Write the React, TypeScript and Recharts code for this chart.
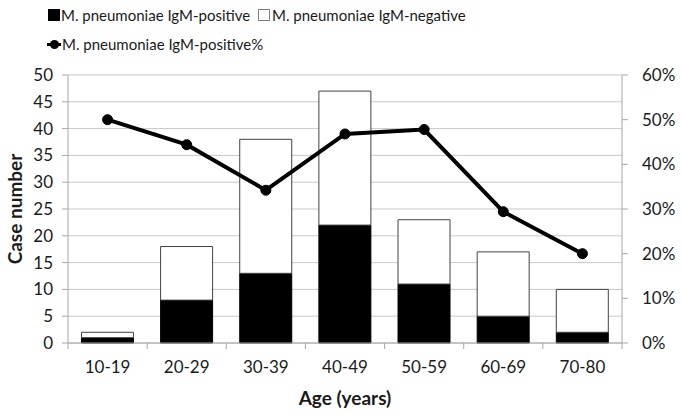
import { ComposedChart, Bar, Line, XAxis, YAxis, CartesianGrid } from 'recharts';

const ageGroups = ['10-19', '20-29', '30-39', '40-49', '50-59', '60-69', '70-80'];
const igmPositive = [1, 8, 13, 22, 11, 5, 2];
const igmNegative = [1, 10, 25, 25, 12, 12, 8];
const positiveRate = [0.5, 0.444, 0.342, 0.468, 0.478, 0.294, 0.2];
const countTicks = [0, 5, 10, 15, 20, 25, 30, 35, 40, 45, 50];
const rateTicks = [0, 0.1, 0.2, 0.3, 0.4, 0.5, 0.6];

const data = ageGroups.map((age, i) => ({
  age,
  pos: igmPositive[i],
  neg: igmNegative[i],
  rate: positiveRate[i],
}));

const W = 683;
const H = 415;
const LEFT = 68;
const RIGHT = 61;
const TOP = 75;
const BOTTOM = 72;
const FONT = 'Lato, "Open Sans", sans-serif';
const AXIS = '#a6a6a6';
const TEXT = '#1a1a1a';
const band = (W - LEFT - RIGHT) / ageGroups.length;
const plotBottom = H - BOTTOM;

function AgeTick(props: any) {
  const { x, payload, index } = props;
  return (
    <g>
      <line x1={x - band / 2} x2={x - band / 2} y1={plotBottom} y2={plotBottom + 6} stroke={AXIS} />
      {index === ageGroups.length - 1 && (
        <line x1={x + band / 2} x2={x + band / 2} y1={plotBottom} y2={plotBottom + 6} stroke={AXIS} />
      )}
      <text x={x} y={366} textAnchor="middle" dominantBaseline="central" fontSize={17} fill={TEXT}>
        {payload.value}
      </text>
    </g>
  );
}

const legendText = { position: 'absolute' as const, fontSize: 15, lineHeight: '20px', color: TEXT, whiteSpace: 'nowrap' as const };

export default function App() {
  return (
    <div style={{ position: 'absolute', left: 0, top: 0, width: W, height: H, fontFamily: FONT, background: '#fff' }}>
      <ComposedChart
        width={W}
        height={H}
        data={data}
        margin={{ top: TOP, right: 0, bottom: 0, left: 0 }}
        barCategoryGap="17%"
      >
        <CartesianGrid yAxisId="left" vertical={false} stroke="#c8c8c8" />
        <XAxis
          dataKey="age"
          height={BOTTOM}
          tickLine={false}
          axisLine={{ stroke: AXIS }}
          tick={<AgeTick />}
          interval={0}
          label={{ value: 'Age (years)', position: 'insideBottom', offset: 10, fontSize: 19, fontWeight: 700, fill: TEXT }}
        />
        <YAxis
          yAxisId="left"
          width={LEFT}
          domain={[0, 50]}
          ticks={countTicks}
          interval={0}
          tickSize={6}
          tickMargin={9}
          axisLine={{ stroke: AXIS }}
          tickLine={{ stroke: AXIS }}
          tick={{ fontSize: 17, fill: TEXT }}
          label={{
            value: 'Case number',
            angle: -90,
            position: 'insideLeft',
            offset: 15,
            fontSize: 19,
            fontWeight: 700,
            fill: TEXT,
            style: { textAnchor: 'middle' },
          }}
        />
        <YAxis
          yAxisId="right"
          orientation="right"
          width={RIGHT}
          domain={[0, 0.6]}
          ticks={rateTicks}
          interval={0}
          tickSize={6}
          tickMargin={14}
          axisLine={{ stroke: AXIS }}
          tickLine={{ stroke: AXIS }}
          tick={{ fontSize: 17, fill: TEXT, textAnchor: 'start' }}
          tickFormatter={(v: number) => `${Math.round(v * 100)}%`}
        />
        <Bar yAxisId="left" dataKey="pos" stackId="a" fill="#000" stroke="#000" isAnimationActive={false} />
        <Bar yAxisId="left" dataKey="neg" stackId="a" fill="#fff" stroke="#404040" isAnimationActive={false} />
        <Line
          yAxisId="right"
          type="linear"
          dataKey="rate"
          stroke="#000"
          strokeWidth={4}
          dot={{ r: 5, fill: '#000', stroke: '#000', strokeWidth: 1 }}
          isAnimationActive={false}
        />
      </ComposedChart>

      <div style={{ position: 'absolute', left: 48, top: 9, width: 12, height: 12, background: '#000' }} />
      <span style={{ ...legendText, left: 61, top: 5 }}>M. pneumoniae IgM-positive</span>
      <div style={{ position: 'absolute', left: 258, top: 9, width: 10, height: 10, background: '#fff', border: '1px solid #7f7f7f' }} />
      <span style={{ ...legendText, left: 272, top: 5 }}>M. pneumoniae IgM-negative</span>
      <div style={{ position: 'absolute', left: 47, top: 43, width: 14, height: 3, background: '#000' }} />
      <div style={{ position: 'absolute', left: 50, top: 40, width: 9, height: 9, borderRadius: '50%', background: '#000' }} />
      <span style={{ ...legendText, left: 62, top: 34 }}>M. pneumoniae IgM-positive%</span>
    </div>
  );
}
